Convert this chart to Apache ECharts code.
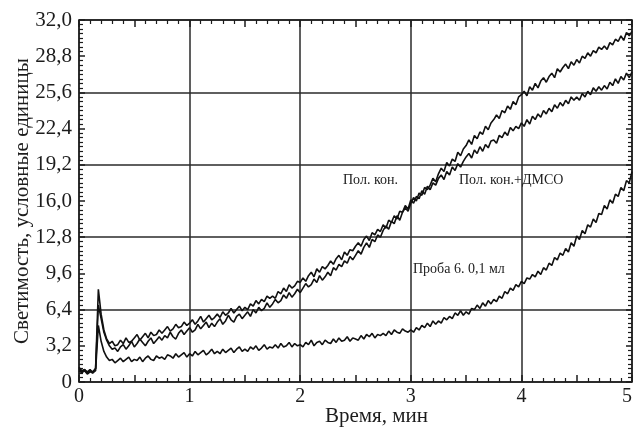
<!DOCTYPE html>
<html>
<head>
<meta charset="utf-8">
<script src="https://cdn.jsdelivr.net/npm/echarts@6/dist/echarts.min.js"></script>
<style>
  html, body { margin: 0; padding: 0; background: #fff; }
  #chart { width: 635px; height: 428px; }
</style>
</head>
<body>
<div id="chart"></div>
<script>
// время, мин: шаг записи
var tStart = 0;
var tStep = 0.025;

// Пол. кон.
var polKon = [
  1.2, 0.9, 1.1, 0.8, 1.0, 0.9, 1.2, 6.8, 5.6, 4.4,
  3.7, 3.2, 2.9, 3.0, 2.7, 3.1, 3.3, 2.9, 3.2, 3.6,
  3.1, 3.4, 3.8, 3.5, 3.2, 3.6, 3.9, 3.4, 3.7, 4.0,
  3.7, 4.1, 3.9, 4.4, 4.0, 3.8, 4.3, 4.6, 4.2, 4.5,
  4.8, 4.4, 4.6, 5.1, 4.7, 5.0, 5.3, 4.8, 5.2, 4.9,
  5.3, 5.6, 5.1, 5.4, 5.9, 5.5, 5.3, 5.8, 6.0, 5.6,
  5.9, 6.2, 5.8, 6.4, 6.1, 6.6, 6.3, 6.5, 7.0, 6.6,
  6.9, 7.3, 7.0, 7.2, 7.7, 7.4, 7.9, 7.5, 7.8, 8.2,
  7.9, 8.3, 8.7, 8.4, 8.6, 9.1, 8.8, 9.4, 9.0, 9.3,
  9.7, 9.4, 10.1, 9.9, 10.4, 10.2, 10.7, 10.5, 11.1, 10.8,
  11.2, 11.6, 11.3, 11.9, 12.3, 11.9, 12.6, 12.4, 13.0, 12.8,
  13.4, 13.8, 13.5, 14.2, 14.0, 14.7, 14.3, 15.0, 15.4, 15.1,
  15.8, 16.3, 16.0, 16.7, 16.5, 17.2, 17.0, 17.4, 18.0, 17.7,
  18.4, 18.9, 18.6, 19.4, 19.1, 19.7, 19.5, 20.3, 20.0, 20.6,
  20.9, 21.4, 21.0, 21.8, 21.5, 22.1, 21.9, 22.6, 22.3, 22.9,
  23.2, 23.6, 23.3, 24.0, 23.8, 24.4, 24.1, 24.8, 24.5, 25.2,
  25.4, 25.7, 25.3, 26.1, 25.8, 26.4, 26.0, 26.6, 26.9, 26.5,
  27.0, 27.3, 26.9, 27.7, 27.4, 27.8, 28.1, 27.7, 28.3, 28.0,
  28.5, 28.2, 28.8, 28.6, 29.1, 28.8, 29.3, 29.1, 29.6, 29.4,
  29.7, 29.4, 30.0, 29.8, 30.3, 30.1, 30.6, 30.2, 30.9, 30.6,
  31.0
];

// Пол. кон.+ДМСО
var polKonDmso = [
  1.3, 1.0, 1.1, 0.9, 1.1, 0.8, 1.2, 8.2, 6.0, 4.6,
  3.8, 3.4, 3.6, 3.2, 3.3, 3.7, 3.4, 3.9, 3.5, 3.6,
  3.9, 4.2, 3.7, 4.0, 4.3, 3.9, 4.4, 4.1, 4.2, 4.6,
  4.3, 4.6, 4.9, 4.5, 4.7, 5.1, 4.8, 4.9, 5.3, 5.0,
  5.2, 5.5, 5.1, 5.4, 5.8, 5.3, 5.6, 5.9, 5.5, 5.7,
  6.0, 5.7, 6.2, 5.9, 6.1, 6.5, 6.1, 6.4, 6.7, 6.3,
  6.6, 6.4, 6.9, 6.7, 7.2, 6.9, 7.3, 7.1, 7.6, 7.4,
  7.6, 7.4, 8.0, 7.8, 8.3, 8.0, 8.6, 8.3, 8.5, 8.9,
  8.8, 9.2, 8.9, 9.4, 9.7, 9.3, 10.0, 9.7, 10.2, 10.0,
  10.3, 10.7, 10.4, 10.9, 11.2, 10.8, 11.5, 11.2, 11.7, 11.6,
  12.0, 12.3, 12.0, 12.6, 12.9, 12.5, 13.2, 13.0, 13.5, 13.3,
  13.9, 13.6, 14.3, 14.1, 14.7, 14.4, 15.1, 15.0, 15.6, 15.3,
  16.1, 15.8, 16.4, 16.2, 16.9, 16.6, 17.3, 17.0, 17.6, 17.4,
  18.0, 18.3, 17.9, 18.6, 18.3, 19.0, 18.7, 19.3, 19.0, 19.5,
  19.9, 20.2, 19.8, 20.5, 20.2, 20.8, 20.4, 21.0, 20.7, 21.3,
  21.4, 21.1, 21.8, 21.6, 22.1, 21.8, 22.5, 22.2, 22.6, 22.4,
  22.9, 22.6, 23.2, 22.8, 23.5, 23.2, 23.7, 23.4, 24.0, 23.7,
  24.2, 23.9, 24.5, 24.2, 24.7, 24.4, 24.9, 24.6, 25.2, 24.9,
  25.2, 24.9, 25.5, 25.2, 25.7, 25.4, 26.0, 25.7, 26.1, 25.8,
  26.2, 25.9, 26.5, 26.2, 26.8, 26.4, 27.0, 26.7, 27.3, 26.9,
  27.4
];

// Проба 6. 0,1 мл
var proba6 = [
  1.0, 0.8, 1.0, 0.7, 0.9, 0.8, 1.0, 5.0, 3.6, 2.7,
  2.2, 1.9, 2.0, 1.7, 1.9, 2.1, 1.8, 2.0, 2.2, 1.8,
  2.0, 1.9, 2.2, 1.8, 2.1, 2.3, 2.0, 1.9, 2.3, 2.1,
  2.2, 2.0, 2.4, 2.3, 2.1, 2.5, 2.2, 2.4, 2.6, 2.2,
  2.5, 2.3, 2.7, 2.4, 2.6, 2.8, 2.4, 2.6, 2.9, 2.5,
  2.7, 2.5, 2.9, 2.6, 2.8, 3.0, 2.6, 2.9, 3.1, 2.7,
  2.9, 2.7, 3.1, 2.9, 3.2, 2.8, 3.0, 3.3, 2.9, 3.1,
  3.0, 3.3, 3.0, 3.4, 3.1, 3.2, 3.5, 3.1, 3.4, 3.2,
  3.3, 3.1, 3.5, 3.3, 3.7, 3.2, 3.5, 3.6, 3.3, 3.7,
  3.5, 3.4, 3.8, 3.5, 3.9, 3.6, 3.7, 4.0, 3.6, 3.9,
  3.8, 3.7, 4.1, 3.8, 4.2, 4.0, 4.3, 3.9, 4.2, 4.1,
  4.3, 4.1, 4.5, 4.2, 4.6, 4.4, 4.3, 4.7, 4.5, 4.4,
  4.6, 4.4, 4.8, 4.6, 5.0, 4.8, 5.2, 4.9, 5.4, 5.1,
  5.4, 5.2, 5.7, 5.5, 5.8, 5.6, 6.1, 5.9, 6.3, 5.9,
  6.2, 6.0, 6.5, 6.4, 6.8, 6.5, 7.0, 6.7, 7.2, 6.9,
  7.3, 7.1, 7.6, 7.4, 8.0, 7.8, 8.3, 8.1, 8.6, 8.4,
  8.9, 8.7, 9.2, 9.1, 9.5, 9.3, 9.8, 9.5, 10.1, 9.9,
  10.5, 10.3, 11.0, 10.8, 11.4, 11.2, 11.8, 11.5, 12.3, 12.0,
  12.9, 12.6, 13.4, 13.1, 13.9, 13.7, 14.4, 14.1, 14.9, 14.8,
  15.6, 15.3, 16.1, 15.8, 16.6, 16.4, 17.2, 16.9, 17.8, 17.6,
  18.6
];

var seriesNames = ['Пол. кон.', 'Пол. кон.+ДМСО', 'Проба 6. 0,1 мл'];

var FONT = '"Liberation Serif", "DejaVu Serif", serif';
var INK = '#1c1c1c';

function toPairs(values) {
  return values.map(function (v, i) {
    return [+(tStart + i * tStep).toFixed(3), v];
  });
}

function yLabel(v) {
  if (Math.abs(v) < 1e-9) return '0';
  return v.toFixed(1).replace('.', ',');
}

var chart = echarts.init(document.getElementById('chart'), null, { renderer: 'canvas' });

// рамка с засечками внутрь
function frameX(pos, withLabels) {
  return {
    type: 'value', position: pos, min: 0, max: 5, interval: 0.5,
    axisLine: { show: true, onZero: false, lineStyle: { color: INK, width: 1.5 } },
    axisTick: { show: true, inside: true, length: 7, lineStyle: { color: INK, width: 1.5 } },
    minorTick: { show: true, splitNumber: 5, length: 4, lineStyle: { color: INK, width: 1.2 } },
    splitLine: { show: false },
    axisLabel: {
      show: withLabels, color: INK, fontFamily: FONT, fontSize: 20, margin: 5,
      alignMaxLabel: 'right',
      formatter: function (v) { return Math.abs(v - Math.round(v)) < 1e-6 ? String(Math.round(v)) : ''; }
    },
    name: withLabels ? 'Время, мин' : '',
    nameLocation: 'middle', nameGap: 24, nameMoveOverlap: false,
    nameTextStyle: { color: INK, fontFamily: FONT, fontSize: 21, padding: [0, 0, 0, 42] }
  };
}

function frameY(pos, withLabels) {
  return {
    type: 'value', position: pos, min: 0, max: 32, interval: 3.2,
    axisLine: { show: true, onZero: false, lineStyle: { color: INK, width: 1.5 } },
    axisTick: { show: true, inside: true, length: 6, lineStyle: { color: INK, width: 1.5 } },
    minorTick: { show: true, splitNumber: 8, length: 4, lineStyle: { color: INK, width: 1.2 } },
    splitLine: { show: false },
    axisLabel: {
      show: withLabels, color: INK, fontFamily: FONT, fontSize: 21, margin: 7,
      formatter: yLabel
    },
    name: withLabels ? 'Светимость, условные единицы' : '',
    nameLocation: 'middle', nameGap: 46, nameMoveOverlap: false,
    nameTextStyle: { color: INK, fontFamily: FONT, fontSize: 21 }
  };
}

var option = {
  animation: false,
  backgroundColor: '#fff',
  grid: { left: 79, right: 3, top: 20, bottom: 46, containLabel: false, outerBoundsMode: 'none' },
  xAxis: [
    frameX('bottom', true),
    frameX('top', false),
    {
      // сетка по целым минутам
      type: 'value', min: 0, max: 5, interval: 1, position: 'bottom',
      axisLine: { show: false }, axisTick: { show: false }, axisLabel: { show: false },
      splitLine: { show: true, lineStyle: { color: '#2a2a2a', width: 1.5 } }
    }
  ],
  yAxis: [
    frameY('left', true),
    frameY('right', false),
    {
      type: 'value', min: 0, max: 32, interval: 6.4, position: 'left',
      axisLine: { show: false }, axisTick: { show: false }, axisLabel: { show: false },
      splitLine: { show: true, lineStyle: { color: '#2a2a2a', width: 1.5 } }
    }
  ],
  series: [polKon, polKonDmso, proba6].map(function (vals, k) {
    return {
      name: seriesNames[k],
      type: 'line',
      xAxisIndex: 0,
      yAxisIndex: 0,
      data: toPairs(vals),
      showSymbol: false,
      symbol: 'none',
      lineStyle: { color: '#111', width: 1.6 },
      z: 5
    };
  }),
  graphic: [
    { type: 'text', left: 343, top: 173, z: 10,
      style: { text: 'Пол. кон.', fill: INK, font: '14px ' + FONT } },
    { type: 'text', left: 459, top: 173, z: 10,
      style: { text: 'Пол. кон.+ДМСО', fill: INK, font: '14px ' + FONT } },
    { type: 'text', left: 413, top: 262, z: 10,
      style: { text: 'Проба 6. 0,1 мл', fill: INK, font: '14px ' + FONT } }
  ]
};

chart.setOption(option);
</script>
</body>
</html>
